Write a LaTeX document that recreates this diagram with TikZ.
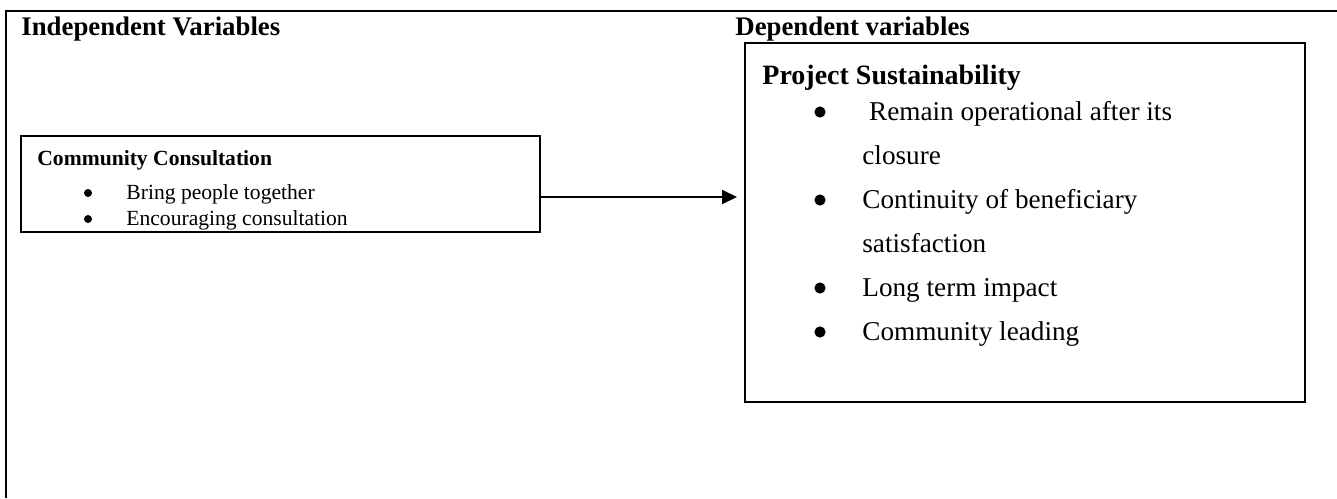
\documentclass[tikz,border=0pt]{standalone}
\usepackage{fontspec}
\setmainfont{Liberation Serif}
\usetikzlibrary{arrows.meta}

\tikzset{
  frameline/.style = {line width=1.2pt},
  varbox/.style = {draw, line width=1pt, inner sep=0pt, outer sep=0pt, anchor=north west},
  headtext/.style = {anchor=base west, inner sep=0pt, font=\fontsize{13.4}{16}\selectfont\bfseries},
  smalltext/.style = {anchor=base west, inner sep=0pt, font=\fontsize{10.8}{13}\selectfont},
  bigtext/.style = {anchor=base west, inner sep=0pt, font=\fontsize{13.6}{17}\selectfont},
  smallbullet/.style = {circle, fill, inner sep=0pt, minimum size=4pt},
  bigbullet/.style = {circle, fill, inner sep=0pt, minimum size=5.6pt},
  arrowline/.style = {line width=1pt, -{Triangle[length=7.5pt,width=7pt]}, shorten >=4pt}
}

\begin{document}
\begin{tikzpicture}[x=0.5pt, y=-0.5pt]
  % Page size
  \useasboundingbox (0,0) rectangle (1337,498);

  % Outer frame (top and left only)
  \draw[frameline] (6,498) -- (6,11) -- (1337,11);

  % Headings
  \node[headtext] (indep) at (21,35) {Independent Variables};
  \node[headtext] (dep) at (735,35) {Dependent variables};

  % Parameters
  \def\bulA{88}
  \def\txtA{126}
  \def\bulB{820}
  \def\txtB{862}

  % Independent variable box
  \node[varbox, minimum width=259.5pt, minimum height=48pt] (comm) at (21,136) {};
  \node[smalltext, font=\fontsize{10.8}{13}\selectfont\bfseries] (commtitle) at (37,165) {Community Consultation};
  \node[smallbullet] (commdotA) at (\bulA,193) {};
  \node[smalltext] (commA) at (\txtA,199) {Bring people together};
  \node[smallbullet] (commdotB) at (\bulA,219) {};
  \node[smalltext] (commB) at (\txtA,225) {Encouraging consultation};

  % Dependent variable box
  \node[varbox, minimum width=280pt, minimum height=179.5pt] (sust) at (745,43) {};
  \node[bigtext, font=\fontsize{14}{17}\selectfont\bfseries] (susttitle) at (762,84) {Project Sustainability};
  \node[bigbullet] (sustdotA) at (\bulB,112) {};
  \node[bigtext] (sustA) at (\txtB,120) {\ Remain operational after its};
  \node[bigtext] (sustAb) at (\txtB,164) {closure};
  \node[bigbullet] (sustdotB) at (\bulB,200) {};
  \node[bigtext] (sustB) at (\txtB,208) {Continuity of beneficiary};
  \node[bigtext] (sustBb) at (\txtB,252) {satisfaction};
  \node[bigbullet] (sustdotC) at (\bulB,288) {};
  \node[bigtext] (sustC) at (\txtB,296) {Long term impact};
  \node[bigbullet] (sustdotD) at (\bulB,332) {};
  \node[bigtext] (sustD) at (\txtB,340) {Community leading};

  % Arrow
  \coordinate (arrowlevel) at (0,197);
  \draw[arrowline] (comm.east |- arrowlevel) -- (sust.west |- arrowlevel);

\end{tikzpicture}
\end{document}
